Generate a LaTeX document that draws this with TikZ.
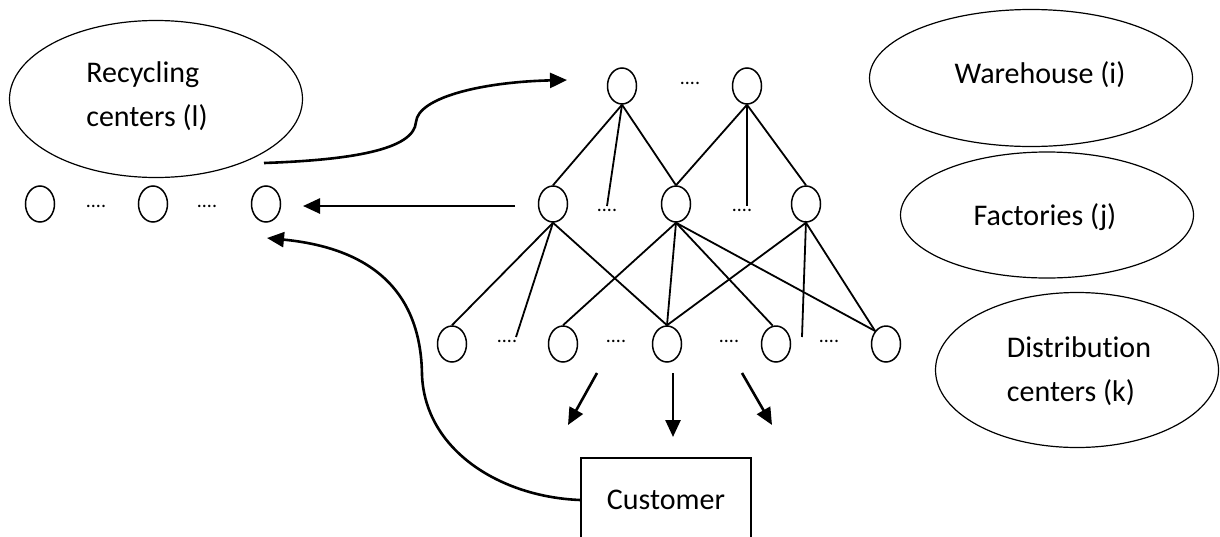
\documentclass[tikz,border=0pt]{standalone}
\usepackage{fontspec}
\setmainfont[Ligatures={NoCommon,NoRequired,NoContextual}]{Carlito}
\usetikzlibrary{shapes.geometric,arrows.meta}
\tikzset{
  site/.style={ellipse,draw,line width=1.5pt,minimum width=29pt,minimum height=36pt,inner sep=0pt},
  bigell/.style={ellipse,draw,line width=1.2pt,inner sep=0pt},
  lbl/.style={font=\fontsize{30}{44}\selectfont,align=left,inner sep=0pt},
  dots/.style={font=\fontsize{20}{20}\selectfont,inner sep=0pt},
  link/.style={line width=1.8pt},
  flow/.style={line width=2.6pt,-{Triangle[length=17pt,width=15pt]}},
}
\begin{document}
\begin{tikzpicture}[x=1pt,y=-1pt]
\useasboundingbox (0,0) rectangle (1220,536);
\clip (0,0) rectangle (1220,536);
% category ellipses
\node[bigell,minimum width=293pt,minimum height=157pt] (recE) at (156,99) {};
\node[lbl] (recT) at (147,96) {Recycling\\centers (l)};
\node[bigell,minimum width=323pt,minimum height=137pt] (whE) at (1031,78) {};
\node[lbl] (whT) at (1040,75) {Warehouse (i)};
\node[bigell,minimum width=293pt,minimum height=126pt] (faE) at (1047,215) {};
\node[lbl] (faT) at (1045,217) {Factories (j)};
\node[bigell,minimum width=283pt,minimum height=155pt] (dcE) at (1077,370) {};
\node[lbl] (dcT) at (1079,371) {Distribution\\centers (k)};
% recycling row
\node[site] (r1) at (40,204) {};
\node[site] (r2) at (153,204) {};
\node[site] (r3) at (266,204) {};
\node[dots] (rd1) at (96,206) {....};
\node[dots] (rd2) at (207,206) {....};
% warehouses
\node[site] (t1) at (622,86) {};
\node[site] (t2) at (747,86) {};
\node[dots] (td) at (690,83) {....};
% factories
\node[site] (m1) at (553,204) {};
\node[site] (m2) at (676,204) {};
\node[site] (m3) at (806,204) {};
\node[dots] (md1) at (607,210) {....};
\node[dots] (md2) at (742,210) {....};
% distribution centers
\node[site] (b1) at (452,344) {};
\node[site] (b2) at (563,344) {};
\node[site] (b3) at (667,344) {};
\node[site] (b4) at (776,344) {};
\node[site] (b5) at (886,344) {};
\node[dots] (bd1) at (507,341) {....};
\node[dots] (bd2) at (616,341) {....};
\node[dots] (bd3) at (729,341) {....};
\node[dots] (bd4) at (829,341) {....};
% customer
\node[draw,line width=1.5pt,minimum width=170pt,minimum height=84pt,inner sep=0pt,font=\fontsize{30}{36}\selectfont] (cust) at (666,500) {Customer};
% free ends
\coordinate (f1) at (607,206);
\coordinate (f2) at (747,206);
\coordinate (f3) at (516,337);
\coordinate (f4) at (802,337);
% links warehouse -> factory
\draw[link] (t1.south) -- (m1.north);
\draw[link] (t1.south) -- (f1);
\draw[link] (t1.south) -- (m2.north);
\draw[link] (t2.south) -- (m2.north);
\draw[link] (t2.south) -- (f2);
\draw[link] (t2.south) -- (m3.north);
% links factory -> DC
\draw[link] (m1.south) -- (b1.north);
\draw[link] (m1.south) -- (f3);
\draw[link] (m1.south) -- (b3.north);
\draw[link] (m2.south) -- (b2.north);
\draw[link] (m2.south) -- (b3.north);
\draw[link] (m2.south) -- (b4.100);
\draw[link] (m2.south) -- (b5.130);
\draw[link] (m3.south) -- (b3.north);
\draw[link] (m3.south |- 0,221) -- (f4);
\draw[link] (m3.south) -- (b5.130);
% flows
\coordinate (a1s) at (264,163);
\coordinate (a1e) at (567,80);
\draw[flow] (a1s) .. controls (350,160) and (414,150) .. (416,122) .. controls (418,98) and (480,82) .. (a1e);
\coordinate (a2s) at (515,206);
\coordinate (a2e) at (303,206);
\draw[flow] (a2s) -- (a2e);
\coordinate (a3e) at (267,238);
\draw[flow] (cust.west) .. controls (500,497) and (425,450) .. (422,375) .. controls (421,290) and (370,248) .. (a3e);
\coordinate (d1s) at (597,373);
\coordinate (d1e) at (568,425);
\coordinate (d2s) at (673,373);
\coordinate (d2e) at (673,437);
\coordinate (d3s) at (742,373);
\coordinate (d3e) at (772,425);
\draw[flow] (d1s) -- (d1e);
\draw[flow] (d2s) -- (d2e);
\draw[flow] (d3s) -- (d3e);
\end{tikzpicture}
\end{document}
